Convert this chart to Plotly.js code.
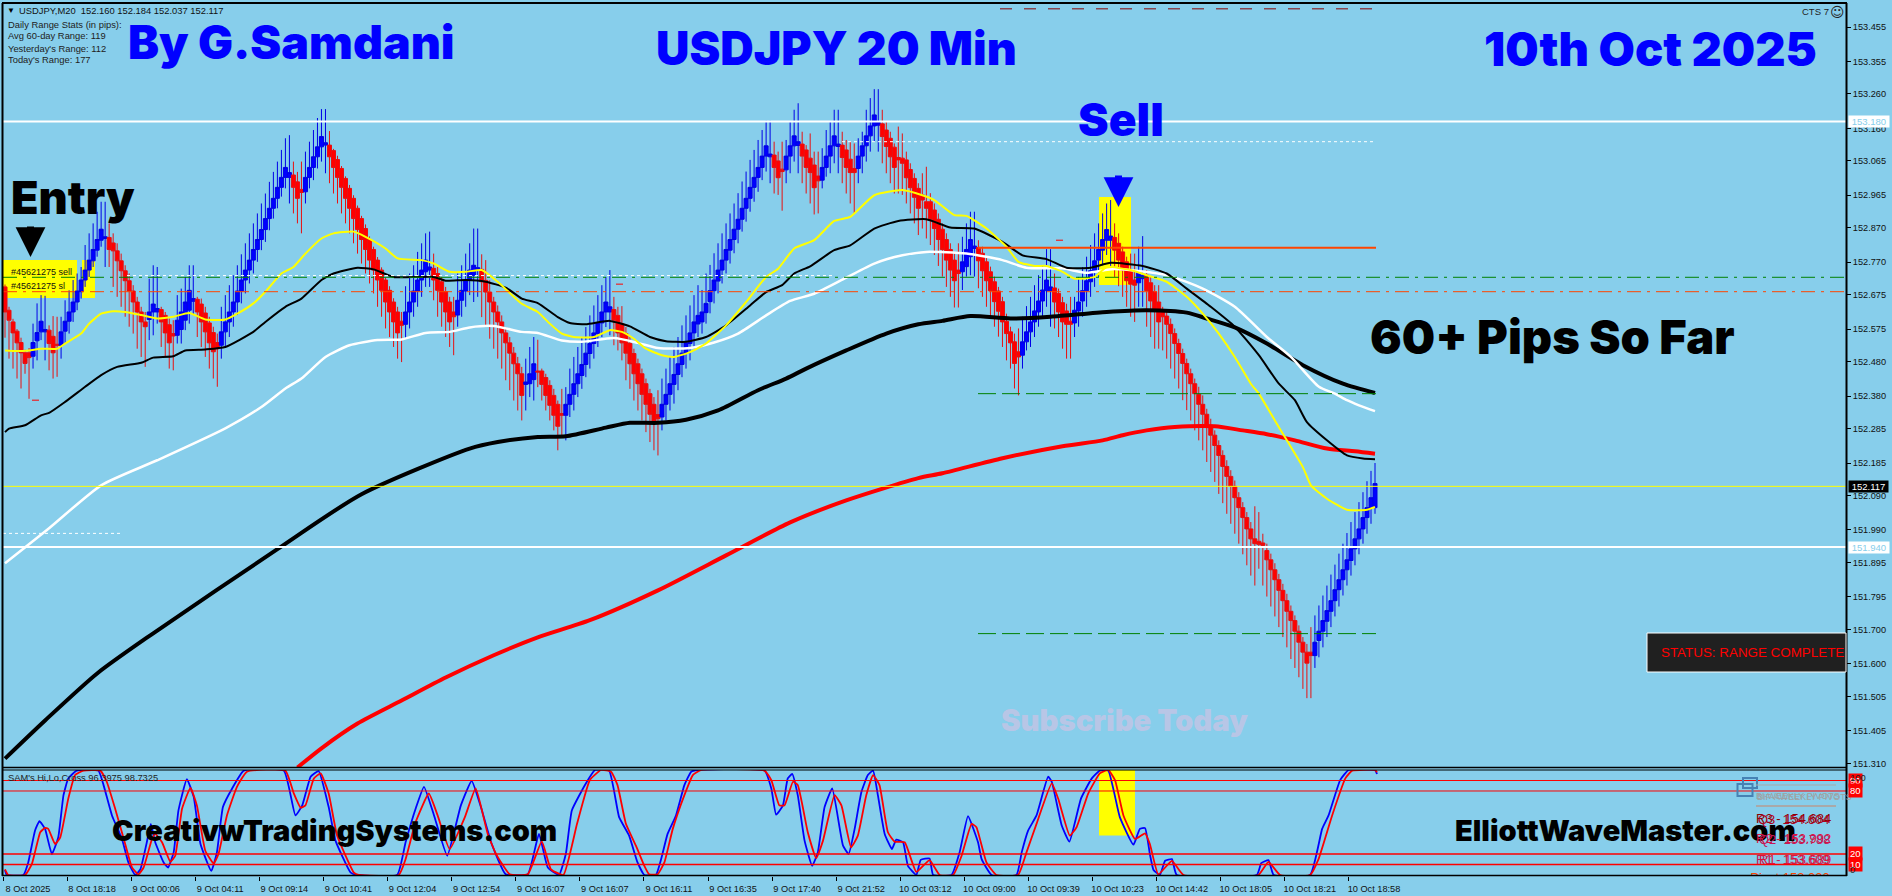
<!DOCTYPE html>
<html><head><meta charset="utf-8">
<script src="https://cdn.plot.ly/plotly-3.0.1.min.js"></script>
<style>html,body{margin:0;padding:0;background:#87CEEB;overflow:hidden}#c{width:1892px;height:896px}</style>
</head><body><div id="c"></div>
<script>
const bodyTop=[152.698,152.630,152.596,152.569,152.536,152.506,152.506,152.536,152.565,152.598,
152.574,152.572,152.554,152.531,152.567,152.598,152.625,152.654,152.686,152.718,
152.747,152.776,152.807,152.836,152.866,152.844,152.842,152.826,152.803,152.774,
152.745,152.716,152.686,152.654,152.625,152.596,152.625,152.648,152.635,152.632,
152.615,152.588,152.562,152.601,152.625,152.654,152.688,152.664,152.662,152.648,
152.622,152.593,152.565,152.536,152.567,152.596,152.625,152.654,152.686,152.718,
152.747,152.776,152.807,152.836,152.865,152.897,152.927,152.956,152.988,153.017,
153.046,153.031,153.024,153.004,152.982,153.017,153.046,153.077,153.106,153.136,
153.118,153.111,153.095,153.069,153.043,153.014,152.985,152.956,152.927,152.897,
152.868,152.836,152.807,152.776,152.747,152.718,152.688,152.654,152.625,152.598,
152.625,152.654,152.686,152.718,152.747,152.776,152.756,152.752,152.737,152.713,
152.684,152.654,152.625,152.659,152.688,152.718,152.747,152.761,152.754,152.749,
152.717,152.683,152.654,152.625,152.596,152.564,152.535,152.505,152.474,152.445,
152.421,152.445,152.474,152.453,152.453,152.434,152.411,152.382,152.356,152.329,
152.356,152.385,152.416,152.445,152.472,152.505,152.533,152.564,152.593,152.625,
152.654,152.640,152.632,152.615,152.591,152.562,152.533,152.504,152.474,152.445,
152.416,152.387,152.356,152.326,152.356,152.385,152.416,152.443,152.474,152.505,
152.535,152.564,152.596,152.615,152.625,152.650,152.687,152.718,152.747,152.776,
152.807,152.836,152.866,152.895,152.927,152.956,152.988,153.017,153.046,153.079,
153.109,153.085,153.082,153.065,153.041,153.079,153.109,153.138,153.121,153.114,
153.097,153.073,153.053,153.021,153.046,153.079,153.109,153.138,153.114,153.111,
153.097,153.070,153.043,153.079,153.109,153.138,153.167,153.199,153.177,153.173,
153.155,153.131,153.105,153.075,153.073,153.068,153.040,153.014,152.985,152.966,
152.946,152.946,152.922,152.895,152.866,152.836,152.807,152.776,152.747,152.771,
152.807,152.836,152.817,152.813,152.796,152.771,152.742,152.713,152.686,152.655,
152.598,152.567,152.538,152.509,152.538,152.567,152.596,152.628,152.657,152.689,
152.718,152.698,152.695,152.679,152.652,152.628,152.598,152.630,152.654,152.687,
152.716,152.745,152.774,152.807,152.836,152.865,152.846,152.842,152.825,152.800,
152.771,152.745,152.718,152.742,152.732,152.732,152.710,152.684,152.654,152.625,
152.613,152.589,152.562,152.533,152.504,152.475,152.445,152.416,152.385,152.356,
152.327,152.295,152.266,152.236,152.207,152.175,152.146,152.117,152.084,152.055,
152.026,151.993,151.964,151.957,151.952,151.930,151.903,151.874,151.845,151.814,
151.784,151.753,151.726,151.695,151.663,151.634,151.634,151.663,151.695,151.726,
151.755,151.784,151.816,151.845,151.874,151.903,151.935,151.964,151.993,152.026,
152.055,152.084,152.125];
const bodyBottom=[152.625,152.601,152.564,152.535,152.506,152.475,152.492,152.496,152.541,152.567,
152.567,152.533,152.506,152.528,152.528,152.569,152.598,152.625,152.654,152.684,
152.718,152.747,152.774,152.805,152.834,152.839,152.807,152.803,152.774,152.745,
152.716,152.686,152.654,152.625,152.596,152.582,152.603,152.625,152.625,152.596,
152.564,152.535,152.555,152.557,152.574,152.601,152.630,152.656,152.625,152.596,
152.567,152.535,152.509,152.518,152.528,152.567,152.596,152.625,152.654,152.686,
152.718,152.747,152.776,152.807,152.836,152.865,152.897,152.927,152.956,152.988,
153.017,153.017,152.988,152.956,152.973,152.975,153.017,153.046,153.077,153.106,
153.111,153.077,153.046,153.017,152.988,152.956,152.927,152.897,152.865,152.836,
152.807,152.776,152.747,152.718,152.688,152.654,152.625,152.596,152.564,152.586,
152.589,152.625,152.654,152.686,152.718,152.742,152.747,152.718,152.688,152.654,
152.625,152.596,152.611,152.616,152.659,152.686,152.718,152.732,152.747,152.713,
152.683,152.654,152.625,152.596,152.564,152.535,152.505,152.474,152.445,152.382,
152.414,152.416,152.428,152.450,152.414,152.382,152.353,152.324,152.292,152.324,
152.324,152.356,152.385,152.416,152.440,152.472,152.504,152.533,152.562,152.593,
152.625,152.625,152.601,152.564,152.535,152.505,152.474,152.445,152.416,152.385,
152.356,152.327,152.304,152.314,152.319,152.356,152.385,152.414,152.443,152.472,
152.504,152.533,152.564,152.590,152.596,152.623,152.655,152.687,152.715,152.747,
152.776,152.805,152.836,152.866,152.895,152.927,152.956,152.988,153.017,153.046,
153.079,153.077,153.046,153.016,153.034,153.039,153.079,153.109,153.110,153.079,
153.046,153.031,152.987,153.007,153.009,153.046,153.079,153.109,153.107,153.075,
153.046,153.031,153.031,153.043,153.079,153.109,153.138,153.167,153.169,153.136,
153.107,153.077,153.046,153.068,153.058,153.016,152.987,152.959,152.927,152.951,
152.927,152.895,152.868,152.836,152.807,152.776,152.747,152.716,152.737,152.742,
152.757,152.786,152.810,152.774,152.745,152.716,152.687,152.655,152.627,152.596,
152.562,152.535,152.475,152.494,152.499,152.538,152.567,152.596,152.625,152.657,
152.687,152.687,152.654,152.625,152.596,152.589,152.589,152.593,152.628,152.657,
152.687,152.713,152.745,152.776,152.805,152.834,152.834,152.805,152.776,152.747,
152.716,152.706,152.703,152.710,152.722,152.687,152.657,152.628,152.596,152.611,
152.589,152.562,152.533,152.504,152.475,152.445,152.416,152.387,152.356,152.327,
152.295,152.266,152.236,152.207,152.175,152.146,152.117,152.084,152.055,152.026,
151.993,151.964,151.950,151.948,151.945,151.903,151.874,151.845,151.814,151.784,
151.753,151.726,151.695,151.663,151.634,151.602,151.624,151.624,151.668,151.695,
151.724,151.753,151.784,151.816,151.845,151.874,151.901,151.935,151.964,151.993,
152.026,152.055,152.055];
const highP=[152.705,152.640,152.605,152.575,152.550,152.515,152.520,152.591,152.650,152.674,
152.672,152.586,152.613,152.611,152.611,152.659,152.688,152.718,152.737,152.756,
152.820,152.854,152.883,152.917,152.946,152.946,152.883,152.854,152.825,152.795,
152.761,152.737,152.703,152.669,152.640,152.625,152.722,152.761,152.756,152.640,
152.625,152.606,152.601,152.674,152.693,152.727,152.761,152.761,152.669,152.664,
152.640,152.611,152.582,152.562,152.640,152.674,152.703,152.732,152.761,152.793,
152.825,152.854,152.883,152.912,152.941,152.970,153.004,153.033,153.063,153.097,
153.131,153.140,153.063,153.033,153.063,153.092,153.121,153.155,153.190,153.216,
153.216,153.152,153.100,153.080,153.050,153.020,152.995,152.965,152.935,152.905,
152.880,152.845,152.815,152.785,152.755,152.725,152.700,152.665,152.640,152.625,
152.700,152.737,152.761,152.800,152.825,152.854,152.859,152.795,152.756,152.727,
152.698,152.669,152.669,152.737,152.761,152.795,152.825,152.868,152.868,152.793,
152.776,152.717,152.669,152.644,152.615,152.581,152.552,152.523,152.494,152.465,
152.489,152.523,152.552,152.544,152.460,152.445,152.426,152.401,152.367,152.401,
152.406,152.460,152.494,152.523,152.552,152.581,152.615,152.644,152.674,152.703,
152.727,152.747,152.669,152.640,152.642,152.581,152.552,152.518,152.489,152.460,
152.431,152.401,152.377,152.397,152.431,152.460,152.494,152.523,152.552,152.586,
152.615,152.644,152.674,152.703,152.689,152.737,152.762,152.796,152.825,152.854,
152.883,152.912,152.941,152.971,153.005,153.034,153.068,153.097,153.126,153.155,
153.182,153.182,153.121,153.092,153.121,153.126,153.179,153.214,153.233,153.150,
153.111,153.145,153.092,153.092,153.102,153.155,153.179,153.214,153.214,153.150,
153.126,153.121,153.116,153.131,153.150,153.214,153.248,153.274,153.274,153.214,
153.179,153.150,153.116,153.165,153.145,153.092,153.058,153.029,153.000,153.029,
153.048,152.971,152.941,152.912,152.883,152.854,152.825,152.796,152.825,152.844,
152.883,152.917,152.917,152.834,152.815,152.786,152.757,152.728,152.698,152.669,
152.620,152.582,152.562,152.577,152.611,152.642,152.669,152.703,152.732,152.761,
152.808,152.808,152.737,152.693,152.669,152.649,152.669,152.669,152.727,152.756,
152.786,152.820,152.854,152.883,152.912,152.941,152.951,152.883,152.854,152.815,
152.786,152.795,152.795,152.815,152.846,152.747,152.727,152.703,152.703,152.640,
152.625,152.606,152.577,152.547,152.518,152.489,152.460,152.431,152.407,152.382,
152.343,152.314,152.280,152.251,152.222,152.193,152.164,152.134,152.100,152.071,
152.042,152.013,152.059,152.042,151.979,151.950,151.921,151.893,151.862,151.833,
151.804,151.770,151.741,151.712,151.678,151.658,151.707,151.741,151.770,151.799,
151.828,151.860,151.889,151.921,151.950,151.981,152.013,152.042,152.071,152.100,
152.132,152.162,152.185];
const lowP=[152.550,152.489,152.460,152.431,152.402,152.445,152.372,152.460,152.484,152.543,
152.484,152.455,152.431,152.436,152.489,152.533,152.562,152.596,152.630,152.664,
152.698,152.727,152.756,152.786,152.815,152.756,152.756,152.698,152.669,152.640,
152.611,152.582,152.562,152.518,152.494,152.465,152.543,152.557,152.591,152.523,
152.494,152.460,152.455,152.533,152.533,152.572,152.591,152.616,152.552,152.523,
152.494,152.460,152.431,152.407,152.489,152.523,152.552,152.582,152.616,152.650,
152.679,152.708,152.737,152.771,152.805,152.829,152.863,152.897,152.927,152.961,
152.985,152.941,152.912,152.883,152.854,152.941,152.985,153.009,153.043,153.063,
153.029,153.000,152.970,152.941,152.912,152.883,152.854,152.825,152.795,152.766,
152.737,152.708,152.679,152.640,152.611,152.577,152.552,152.523,152.489,152.479,
152.548,152.577,152.611,152.640,152.669,152.698,152.698,152.659,152.611,152.582,
152.552,152.523,152.499,152.582,152.611,152.640,152.674,152.654,152.669,152.610,
152.581,152.547,152.518,152.489,152.460,152.426,152.397,152.367,152.338,152.309,
152.338,152.377,152.367,152.406,152.367,152.338,152.309,152.280,152.222,152.265,
152.251,152.319,152.338,152.377,152.401,152.435,152.460,152.489,152.523,152.552,
152.581,152.557,152.528,152.513,152.484,152.426,152.401,152.367,152.338,152.309,
152.275,152.246,152.222,152.207,152.280,152.309,152.338,152.358,152.397,152.435,
152.460,152.484,152.518,152.552,152.562,152.591,152.621,152.650,152.679,152.708,
152.737,152.766,152.796,152.825,152.859,152.888,152.917,152.946,152.975,153.009,
153.034,153.000,152.970,152.966,152.920,153.000,153.029,153.063,153.029,153.000,
152.970,152.941,152.909,152.912,152.985,153.019,153.029,153.058,153.029,153.000,
152.970,152.941,152.912,153.000,153.029,153.063,153.092,153.121,153.092,153.058,
153.029,153.000,152.970,152.970,152.966,152.941,152.912,152.883,152.849,152.868,
152.839,152.820,152.791,152.759,152.728,152.698,152.669,152.638,152.638,152.689,
152.728,152.732,152.728,152.694,152.669,152.640,152.611,152.582,152.553,152.523,
152.484,152.460,152.402,152.382,152.460,152.513,152.523,152.552,152.582,152.611,
152.640,152.582,152.577,152.552,152.518,152.489,152.489,152.552,152.582,152.611,
152.640,152.669,152.698,152.727,152.761,152.791,152.757,152.727,152.700,152.669,
152.640,152.611,152.596,152.640,152.640,152.582,152.552,152.518,152.518,152.513,
152.489,152.460,152.431,152.402,152.368,152.339,152.309,152.280,152.251,152.222,
152.188,152.159,152.130,152.095,152.068,152.037,152.008,151.979,151.950,151.919,
151.887,151.857,151.828,151.877,151.828,151.796,151.767,151.738,151.707,151.678,
151.648,151.614,151.588,151.561,151.527,151.500,151.500,151.588,151.619,151.648,
151.678,151.707,151.738,151.767,151.799,151.828,151.857,151.887,151.919,151.950,
151.979,152.008,152.037];
// alternating run lengths: falling bars first, then rising bars, and so on
const barRuns=[7,4,3,12,10,3,4,5,6,18,3,6,19,7,6,6,11,3,7,12,12,28,3,4,5,5,4,6,20,4,11,8,5,10,6,2,42,16];

const yellowBars=[0,3,6,9,13,15,19,21,24,27,30,34,38,42,46,50,55,58,62,65,69,72,75,79,82,87,90,95,98,104,107,111,115,119,123,129,133,136,139,142,147,151,154,157,160,164,167,171,175,180,185,190,193,197,202,207,211,217,224,229,232,237,240,245,250,253,257,260,264,267,272,275,281,285,290,295,299,303,307,311,313,317,320,324,326,330,335,340,342];
const yellowMA=[152.513,152.511,152.513,152.518,152.518,152.533,152.562,152.591,152.620,152.627,152.625,152.616,152.606,152.611,152.622,152.603,152.603,152.620,152.650,152.684,152.737,152.756,152.795,152.839,152.854,152.859,152.844,152.810,152.781,152.776,152.766,152.742,152.742,152.747,152.713,152.649,152.625,152.591,152.562,152.552,152.552,152.572,152.567,152.547,152.518,152.499,152.494,152.508,152.533,152.586,152.654,152.727,152.751,152.810,152.834,152.890,152.902,152.965,152.980,152.965,152.951,152.907,152.905,152.868,152.815,152.771,152.759,152.759,152.742,152.722,152.727,152.756,152.747,152.732,152.713,152.669,152.620,152.562,152.494,152.416,152.387,152.309,152.251,152.173,152.120,152.081,152.049,152.049,152.057];
const blackBars=[0,1,5,9,11,15,20,24,28,34,37,42,45,50,55,62,65,70,74,79,82,88,92,97,103,107,110,115,120,125,129,133,138,141,145,151,156,161,165,170,175,180,186,190,194,197,201,207,211,217,223,230,236,242,249,254,260,265,271,276,284,290,295,301,307,313,318,322,325,330,335,339,342];
const blackMA=[152.275,152.285,152.295,152.324,152.331,152.363,152.407,152.441,152.465,152.477,152.492,152.496,152.513,152.516,152.523,152.567,152.596,152.640,152.664,152.718,152.737,152.754,152.749,152.727,152.727,152.727,152.716,152.718,152.713,152.696,152.664,152.651,152.610,152.593,152.589,152.599,152.583,152.552,152.540,152.538,152.552,152.586,152.644,152.683,152.703,152.737,152.758,152.805,152.819,152.868,152.890,152.895,152.871,152.868,152.829,152.790,152.779,152.754,152.754,152.768,152.759,152.737,152.693,152.640,152.582,152.499,152.416,152.368,152.304,152.251,152.207,152.198,152.196];
const whiteBars=[0,11,24,38,55,64,70,74,80,86,93,99,105,111,116,122,129,133,139,144,152,158,163,171,177,183,190,196,202,210,217,224,230,240,249,255,264,270,277,290,299,307,315,321,328,332,335,338,342];
const whiteMA=[151.893,151.995,152.120,152.193,152.286,152.348,152.402,152.431,152.494,152.528,152.543,152.545,152.564,152.567,152.580,152.584,152.567,152.564,152.542,152.538,152.549,152.535,152.520,152.520,152.536,152.562,152.615,152.657,152.678,152.725,152.766,152.790,152.800,152.795,152.776,152.754,152.752,152.739,152.750,152.732,152.693,152.640,152.552,152.494,152.407,152.387,152.368,152.353,152.336];
const thickBlackBars=[0,10,23,37,68,89,116,123,133,140,150,156,163,170,178,188,195,200,210,220,228,234,241,251,261,275,285,295,300,307,315,324,334,342];
const thickBlackMA=[151.324,151.435,151.572,151.689,151.934,152.094,152.227,152.246,152.261,152.263,152.288,152.302,152.302,152.311,152.338,152.397,152.431,152.460,152.513,152.562,152.589,152.599,152.613,152.606,152.611,152.625,152.630,152.623,152.606,152.580,152.533,152.470,152.416,152.389];
const redBars=[73,79,88,99,110,122,133,146,163,180,196,210,228,234,249,264,274,279,285,292,302,309,315,322,330,337,342];
const redMA=[151.298,151.354,151.426,151.493,151.560,151.625,151.677,151.727,151.814,151.916,152.012,152.076,152.141,152.155,152.199,152.234,152.251,152.266,152.280,152.290,152.292,152.280,152.269,152.251,152.227,152.219,152.212];

const oscBlueBars=[0,0.4,4.6,5.8,7.5,8.6,10,11.7,13.3,14.6,15.8,17.9,23.3,24.6,26.7,29.2,30.8,32.5,33.8,35.4,36.4,37.5,39.6,40.7,42.1,43.3,45.4,47.1,48.8,51.5,52.9,54.4,56.7,59.6,69.6,72.5,74.2,76.3,78.3,80.8,82.5,86.3,87.9,97.9,100,102.5,104.6,107.1,110.4,113.8,116.5,118.8,121.5,125,130.5,133.3,135.5,138.3,140,141.5,145,147.3,150.8,153.3,155.8,157.9,159.6,162.5,163.8,165.4,167.5,169.6,171.3,172.9,189.6,191.3,192.5,194.2,195.4,196.5,197.9,199.6,201.5,202.9,204.6,206.5,209.2,210.6,212.1,213.8,215.4,216.7,217.9,219.6,221.4,222.5,224.2,225.4,227.5,228.6,230.8,231.7,236.3,238.3,240.4,242.9,243.8,246.3,252.5,253.8,255.4,257.5,260.4,261.3,263.8,265.7,268.6,271.3,273.3,275.4,278.3,281.7,283.3,284.6,285.8,286.7,288.3,289.6,291.3,292.5,312.5,313.6,315.4,316.7,325.8,328.8,330.4,333.3,335.4,342,342.5];
const oscBlue=[4.8,0,0,11.9,42.3,51.3,43.9,19.9,35.9,76,92,99.4,99.4,85.6,56.7,34.3,11.9,0,5.4,31.1,48.7,31.1,11.9,7.1,21.5,61.5,91.3,74.4,29.5,3.8,21.5,64.7,82.4,99.4,99.4,56.7,66.3,93.6,99,64.7,32.7,2.2,0,0,31.1,63.1,84,56.7,18.3,66.3,89.7,64.7,29.5,0.6,0.6,39.1,7.1,0,19.9,61.5,87.2,100,99.4,55.1,37.5,11.9,0,0,15.1,39.1,56.7,85.6,98.4,100,99.4,82.4,57.4,66.3,92,96.2,76,32.7,8.7,21.5,64.7,82.4,27.9,19.9,43.9,79.2,95.2,99.4,76,39.1,24.7,33.7,31.1,8.7,0,14.4,15.7,0,0,21.5,56.1,31.1,15.1,0,0,21.5,42.3,56.7,93.6,88.8,47.1,31.7,72.8,92,99.4,99.4,55.1,28.8,43.9,44.6,19.9,4.8,0,13.5,15.1,0,0,11.2,14.1,0,0,43.9,56.7,90.4,100,100,96.2];
const oscRedBars=[0,0.8,5,6.7,8.8,10,10.8,12.5,13.8,15.8,17.5,19.6,23.8,25.4,27.5,30,31.7,33.3,34.6,36.7,37.5,39.2,41.3,42.5,44.2,46.3,47.9,50,52.1,53.3,55.4,57.9,60.4,70,72.1,73.8,75,77.1,78.8,80.8,82.9,87.1,88.3,98.3,100,102.5,105.8,108,111,114.8,117.5,120.5,122.6,126,130.5,134,136.3,139.4,142.8,146,148.8,151.3,152.9,155,157.5,159.6,160.8,162.9,164.6,166.7,169.6,171.7,173.8,189.6,191.3,193.3,194.6,196.7,197.9,200.4,202.5,204.2,207.1,208.8,211.2,212.9,215,216.7,218.3,220.4,222.1,224.6,227.5,230.8,233.3,236.7,238.8,241.3,242.5,245,247.5,252.9,255,257.5,261.3,262.9,265.8,267.5,270.4,273.3,275.4,277.1,279.2,282.1,284.6,285.8,287.9,291.3,294.2,312.9,315.4,318.3,325.8,327.9,331.3,334.6,336.3,342,342.5];
const oscRed=[5.4,0,0,10.3,40.7,44.9,43.9,29.5,35.9,72.8,95.2,99.4,99.4,88.8,63.1,29.5,7.1,0.6,7.1,34.3,39.1,31.1,12.5,18.3,63.1,83,66.3,23.1,10.9,19.9,56.7,84,98.4,99.4,77.6,64.1,66.3,92,96.8,77.6,37.5,2.2,0,0,15.1,50.3,77.6,56.7,24.7,55.1,82.4,39.1,19.9,0.6,0.6,32,5.4,0,48.7,90.4,100,98.4,85.6,48.7,27.9,8.7,0.6,0.6,11.9,43.9,76,95.2,100,99.4,90.4,66.3,66.3,88.8,85.6,40.7,16,32.7,76,66.3,26.3,37.5,76,95.2,85.6,40.7,31.7,31.1,2.9,14.1,0,0,18.3,48.7,45.5,11.9,0,0,21.5,48.7,87.2,72.8,37.5,45.5,77.6,96.8,100,90.4,56.7,34.3,39.7,29.5,0.6,13.5,0,0,12.5,0,0,15.1,56.7,92,99.4,100,97.8];

const timeLabels=["8 Oct 2025","8 Oct 18:18","9 Oct 00:06","9 Oct 04:11","9 Oct 09:14","9 Oct 10:41","9 Oct 12:04","9 Oct 12:54","9 Oct 16:07","9 Oct 16:07","9 Oct 16:11","9 Oct 16:35","9 Oct 17:40","9 Oct 21:52","10 Oct 03:12","10 Oct 09:00","10 Oct 09:39","10 Oct 10:23","10 Oct 14:42","10 Oct 18:05","10 Oct 18:21","10 Oct 18:58"];
const priceTicks=[153.455,153.355,153.260,153.160,153.065,152.965,152.870,152.770,152.675,152.575,152.480,152.380,152.285,152.185,152.090,151.990,151.895,151.795,151.700,151.600,151.505,151.405,151.310];

// ---- build
const bars=bodyTop.map((_,i)=>i);
const dirs=[];barRuns.forEach((n,k)=>{for(let j=0;j<n;j++)dirs.push(k%2===1?1:-1);});
const openP=bars.map(i=>dirs[i]>0?bodyBottom[i]:bodyTop[i]);
const closeP=bars.map(i=>dirs[i]>0?bodyTop[i]:bodyBottom[i]);
const tickBars=timeLabels.map((_,k)=>k*16-0.5);

const W=1892,H=896,L=3,R=1846,T=3,B=876;
const barStep=1370/342;
const xRange=[-0.5,-0.5+(R-L)/barStep];
const px=x=>(x-L)/(R-L), py=y=>(B-y)/(B-T);
const barOf=x=>(x-5)/barStep;
const mainTop=153.525, mainBottom=151.298;

const line=(x,y,color,width,yaxis,smooth)=>({type:'scatter',mode:'lines',x,y,yaxis:yaxis||'y',
  line:smooth?{color,width,shape:'spline',smoothing:smooth}:{color,width},hoverinfo:'skip',showlegend:false});
const traces=[
 {type:'candlestick',x:bars,open:openP,high:highP,low:lowP,close:closeP,yaxis:'y',whiskerwidth:0,
  increasing:{line:{color:'#0000e6',width:1},fillcolor:'#0000ff'},
  decreasing:{line:{color:'#e81010',width:1},fillcolor:'#ff0000'},hoverinfo:'skip',showlegend:false},
 line(thickBlackBars,thickBlackMA,'#000000',4,'y',0.7),
 line(redBars,redMA,'#ff0000',4,'y',0.7),
 line(whiteBars,whiteMA,'#ffffff',2.5,'y',0.6),
 line(blackBars,blackMA,'#000000',2,'y',0.5),
 line(yellowBars,yellowMA,'#ffff00',2,'y',0.5),
 line(oscBlueBars,oscBlue,'#0000ff',1.8,'y2',0.4),
 line(oscRedBars,oscRed,'#ff0000',1.8,'y2',0.4),
 {type:'scatter',mode:'text',x:[(1790-5)/barStep],y:[-3.5],yaxis:'y2',text:['Pivot 153.000'],cliponaxis:true,
  textfont:{family:'"Liberation Sans", sans-serif',size:13,color:'#ff4500'},textposition:'middle center',hoverinfo:'skip',showlegend:false},
];

const hline=(p,color,width,dash)=>({type:'line',xref:'paper',x0:0,x1:1,yref:'y',y0:p,y1:p,line:{color,width,dash:dash||'solid'}});
const seg=(a,b,p,color,width,dash)=>({type:'line',xref:'x',x0:a,x1:b,yref:'y',y0:p,y1:p,line:{color,width,dash:dash||'solid'}});
const pline=(x0,y0,x1,y1,color,width)=>({type:'line',xref:'paper',yref:'paper',x0:px(x0),x1:px(x1),y0:py(y0),y1:py(y1),line:{color,width}});
const prect=(x0,y0,x1,y1,fill,lc,lw,layer)=>({type:'rect',xref:'paper',yref:'paper',x0:px(x0),x1:px(x1),y0:py(y0),y1:py(y1),fillcolor:fill,line:{color:lc||fill,width:lw||0},layer:layer||'above'});
const lvl=(v,w)=>({type:'line',xref:'paper',x0:0,x1:1,yref:'y2',y0:v,y1:v,line:{color:'#ff0000',width:w}});

const shapes=[
 prect(3,260,77,298,'#ffff00',null,0,'below'),
 prect(82,260,95,298,'#ffff00',null,0,'below'),
 prect(1099,197,1131,285,'#ffff00',null,0,'below'),
 {type:'rect',xref:'x',yref:'y2',x0:barOf(1099),x1:barOf(1135),y0:37.5,y1:100,fillcolor:'#ffff00',line:{width:0},layer:'below'},
 hline(153.180,'#ffffff',2),
 hline(151.940,'#ffffff',2),
 hline(152.117,'#ffff00',1),
 hline(152.726,'#008000',1,'14px,6px,3px,6px'),
 hline(152.684,'#ff4500',1,'14px,6px,3px,6px'),
 seg(barOf(127),barOf(833),152.731,'#ffffff',1,'3px,3px'),
 seg(barOf(842),barOf(1373),153.121,'#ffffff',1,'3px,3px'),
 seg(barOf(3),barOf(120),151.980,'#ffffff',1,'3px,3px'),
 seg(barOf(1000),barOf(1376),153.508,'#8b0000',1,'12px,12px'),
 seg(barOf(978),barOf(1376),152.812,'#ff4500',2),
 seg(barOf(978),barOf(1376),152.387,'#008000',1,'18px,6px'),
 seg(barOf(978),barOf(1376),151.688,'#008000',1,'18px,6px'),
 seg(barOf(32),barOf(39),152.368,'#ff0000',1),
 seg(barOf(616),barOf(623),152.706,'#ff0000',1),
 seg(barOf(1056),barOf(1063),152.834,'#ff0000',1),
 lvl(90,1),lvl(80,1),lvl(20,1.5),lvl(10,1.5),
 pline(2.5,3,2.5,876,'#000',2),
 pline(2,3,1847,3,'#000',2),
 pline(1846.5,3,1846.5,876,'#000',2),
 pline(2,767.5,1847,767.5,'#000',1.5),
 pline(2,770,1847,770,'#000',1),
 pline(2,875.5,1847,875.5,'#000',1.5),
 prect(1647,633,1846,672,'#202020','#ffffff',1),
 prect(1737.5,784,1752.5,796,'rgba(0,0,0,0)','#4682b4',2),
 prect(1743,778,1757,788,'rgba(0,0,0,0)','#4682b4',2),
 pline(1756,785,1836,785,'#a9a9a9',1),
 pline(1756,806,1836,806,'#a9a9a9',2),
];

const heavy='Inter, "Liberation Sans", sans-serif';
const ui='"Liberation Sans", sans-serif';
const txt=(x,y,text,size,color,opt)=>Object.assign({xref:'paper',yref:'paper',x:px(x),y:py(y),text,showarrow:false,xanchor:'left',yanchor:'middle',
  font:{family:ui,size,color},borderpad:0},opt||{});
const big=(x,y,text,size,color)=>txt(x,y,text,size,color,{font:{family:heavy,size,color,weight:900}});
const box=(p,text,bg,color)=>({xref:'paper',yref:'y',x:1,y:p,xshift:2,text:'&nbsp;'+text+'&nbsp;',showarrow:false,xanchor:'left',yanchor:'middle',bgcolor:bg,font:{family:ui,size:9.5,color},borderpad:0});
const redBox=(v,text)=>({xref:'paper',yref:'y2',x:1,y:v,xshift:2,text,showarrow:false,xanchor:'left',yanchor:'middle',bgcolor:'#ff0000',font:{family:ui,size:9.5,color:'#ffffff'},borderpad:1});
const arrow=(x,yTip,len,color)=>({xref:'paper',yref:'paper',x:px(x),y:py(yTip),ax:0,ay:-len,axref:'pixel',ayref:'pixel',text:'',showarrow:true,arrowhead:2,arrowsize:0.85,arrowwidth:7,arrowcolor:color,standoff:0});

const annotations=[
 txt(6,11,'▼',8,'#000'),
 txt(18,11,'USDJPY,M20&nbsp;&nbsp;152.160 152.184 152.037 152.117',9.4,'#111'),
 txt(7,24,'Daily Range Stats (in pips):',9.4,'#222'),
 txt(7,36,'Avg 60-day Range: 119',9.4,'#222'),
 txt(7,48,"Yesterday's Range: 112",9.4,'#222'),
 txt(7,60,"Today's Range: 177",9.4,'#222'),
 big(127,42,'By G.Samdani',46.5,'#0000ff'),
 big(655,48,'USDJPY 20 Min',46.3,'#0000ff'),
 big(1483,48,'10th Oct 2025',47,'#0000ff'),
 big(1077,119,'Sell',46,'#0000ff'),
 big(10,198,'Entry',45,'#000000'),
 big(1369,336,'60+ Pips So Far',47,'#000000'),
 big(1000,720,'Subscribe Today',29.3,'#b8c6e6'),
 big(111,830,'CreativwTradingSystems.com',29,'#000000'),
 big(1454,830,'ElliottWaveMaster.com',29,'#000000'),
 arrow(30.5,257,32,'#000000'),
 arrow(1118.5,207,33,'#0000ff'),
 txt(10,272,'#45621275 sell',9,'#111'),
 txt(10,286,'#45621275 sl',9,'#111'),
 txt(7,778,"SAM's Hi,Lo,Cross 96.3975 98.7325",9.3,'#222'),
 txt(1801,12,'CTS 7',9.5,'#222'),
 txt(1829,12,'☺',14,'#222',{font:{family:'"DejaVu Sans"',size:14,color:'#222'}}),
 txt(1660,652,'STATUS: RANGE COMPLETE',13.4,'#ff0000'),
 txt(1755,796,'BI-WEEKLY PIVOTS',9,'#a0a0a0'),
 txt(1756,797,'BIF-AWEEKLY PIVOTS',9,'#a0a0a0'),
 txt(1755,818,'R3 - 154.684',13,'#8b0000'),
 txt(1757,819,'Q3  154.604',13,'#b00020'),
 txt(1755,838,'R2 - 153.992',13,'#dc143c'),
 txt(1758,839,'Q2  153.788',13,'#c2185b'),
 txt(1755,859,'R1 - 153.689',13,'#c2185b'),
 txt(1758,859,'R1  153.609',13,'#dc143c'),
 box(153.180,'153.180','#ffffff','#87ceeb'),
 box(152.117,'152.117','#000000','#ffffff'),
 box(151.940,'151.940','#ffffff','#87ceeb'),
 redBox(90,'90'),redBox(80,'80'),redBox(20,'20'),redBox(10,'10'),
 txt(1849,777,'100',9.5,'#222'),
 txt(1849,869,'0',9.5,'#222'),
];

const axisFont={family:ui,size:9.2,color:'#111'};
const layout={
 width:W,height:H,paper_bgcolor:'#87CEEB',plot_bgcolor:'#87CEEB',showlegend:false,hovermode:false,boxgap:0,boxgroupgap:0,
 margin:{l:L,r:W-R,t:T,b:H-B,pad:0},
 xaxis:{type:'linear',domain:[0,1],range:xRange,anchor:'y2',rangeslider:{visible:false},showgrid:false,zeroline:false,showline:false,
   tickmode:'array',tickvals:tickBars,ticktext:timeLabels,ticks:'outside',ticklen:4,tickcolor:'#000',tickfont:axisFont,ticklabelshift:25,ticklabelstandoff:0},
 yaxis:{domain:[py(767.5),1],range:[mainBottom,mainTop],side:'right',anchor:'x',showgrid:false,zeroline:false,showline:false,
   tickmode:'array',tickvals:priceTicks,ticktext:priceTicks.map(v=>v.toFixed(3)),ticks:'outside',ticklen:4,tickcolor:'#000',tickfont:axisFont},
 yaxis2:{domain:[0,py(770)],range:[-1,100],side:'right',anchor:'x',showgrid:false,zeroline:false,showline:false,showticklabels:false,ticks:''},
 shapes,annotations
};
Plotly.newPlot('c',traces,layout,{displayModeBar:false,staticPlot:true});
</script></body></html>
